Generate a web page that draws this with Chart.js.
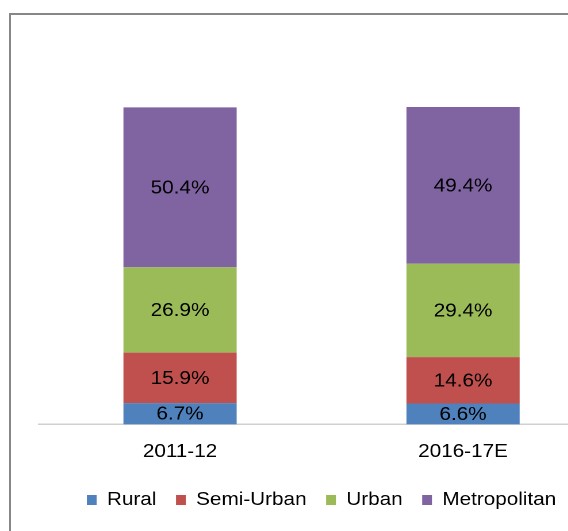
<!DOCTYPE html>
<html>
<head>
<meta charset="utf-8">
<script src="https://cdn.jsdelivr.net/npm/chart.js@4/dist/chart.umd.min.js"></script>
<style>
  html, body { margin: 0; padding: 0; background: #fff; overflow: hidden; width: 568px; height: 531px; }
  #frame { position: absolute; left: 9px; top: 13px; width: 700px; height: 700px; border-left: 2px solid #878787; border-top: 2px solid #878787; }
  /* the source picture is stretched horizontally, so stretch the canvas too */
  #wrap { position: absolute; left: 0; top: 0; width: 560px; height: 531px; transform: scaleX(1.15); transform-origin: 0 0; }
</style>
</head>
<body>
<div id="frame"></div>
<div id="wrap"><canvas id="shareChart"></canvas></div>
<script>
const years = ["2011-12", "2016-17E"];
const rural = [6.7, 6.6];
const semiUrban = [15.9, 14.6];
const urban = [26.9, 29.4];
const metropolitan = [50.4, 49.4];

const font = "'Liberation Sans', Arial, sans-serif";

// labels in the middle of every segment
const segmentLabels = {
    id: "segmentLabels",
    afterDatasetsDraw(chart) {
        const ctx = chart.ctx;
        ctx.save();
        ctx.font = "18px " + font;
        ctx.fillStyle = "#000";
        ctx.textAlign = "center";
        ctx.textBaseline = "middle";
        chart.data.datasets.forEach((ds, i) => {
            chart.getDatasetMeta(i).data.forEach((bar, j) => {
                const y = (bar.y + bar.base) / 2;
                ctx.fillText(ds.data[j].toFixed(1) + "%", bar.x, y + 1);
            });
        });
        ctx.restore();
    }
};

new Chart(document.getElementById("shareChart"), {
    type: "bar",
    data: {
        labels: years,
        datasets: [
            { label: "Rural", data: rural, backgroundColor: "#4F81BD" },
            { label: "Semi-Urban", data: semiUrban, backgroundColor: "#C0504D" },
            { label: "Urban", data: urban, backgroundColor: "#9BBB59" },
            { label: "Metropolitan", data: metropolitan, backgroundColor: "#8064A2" }
        ]
    },
    options: {
        responsive: true,
        maintainAspectRatio: false,
        animation: false,
        devicePixelRatio: 2,
        categoryPercentage: 1,
        barPercentage: 0.4,
        layout: { padding: { left: 33.5, right: 34.3, top: 107, bottom: 12 } },
        scales: {
            x: {
                stacked: true,
                grid: { display: true, drawOnChartArea: false, drawTicks: false },
                border: { display: true, color: "#d0d0d0", width: 1.5 },
                ticks: { color: "#000", padding: 17, font: { family: font, size: 18 } },
                afterFit(scale) { scale.height -= 6; }
            },
            y: {
                stacked: true,
                display: false,
                min: 0,
                max: 100
            }
        },
        plugins: {
            tooltip: { enabled: false },
            legend: {
                position: "bottom",
                labels: {
                    color: "#000",
                    boxWidth: 8.5,
                    boxHeight: 10,
                    padding: 17,
                    font: { family: font, size: 18 }
                }
            }
        }
    },
    plugins: [segmentLabels]
});
</script>
</body>
</html>
